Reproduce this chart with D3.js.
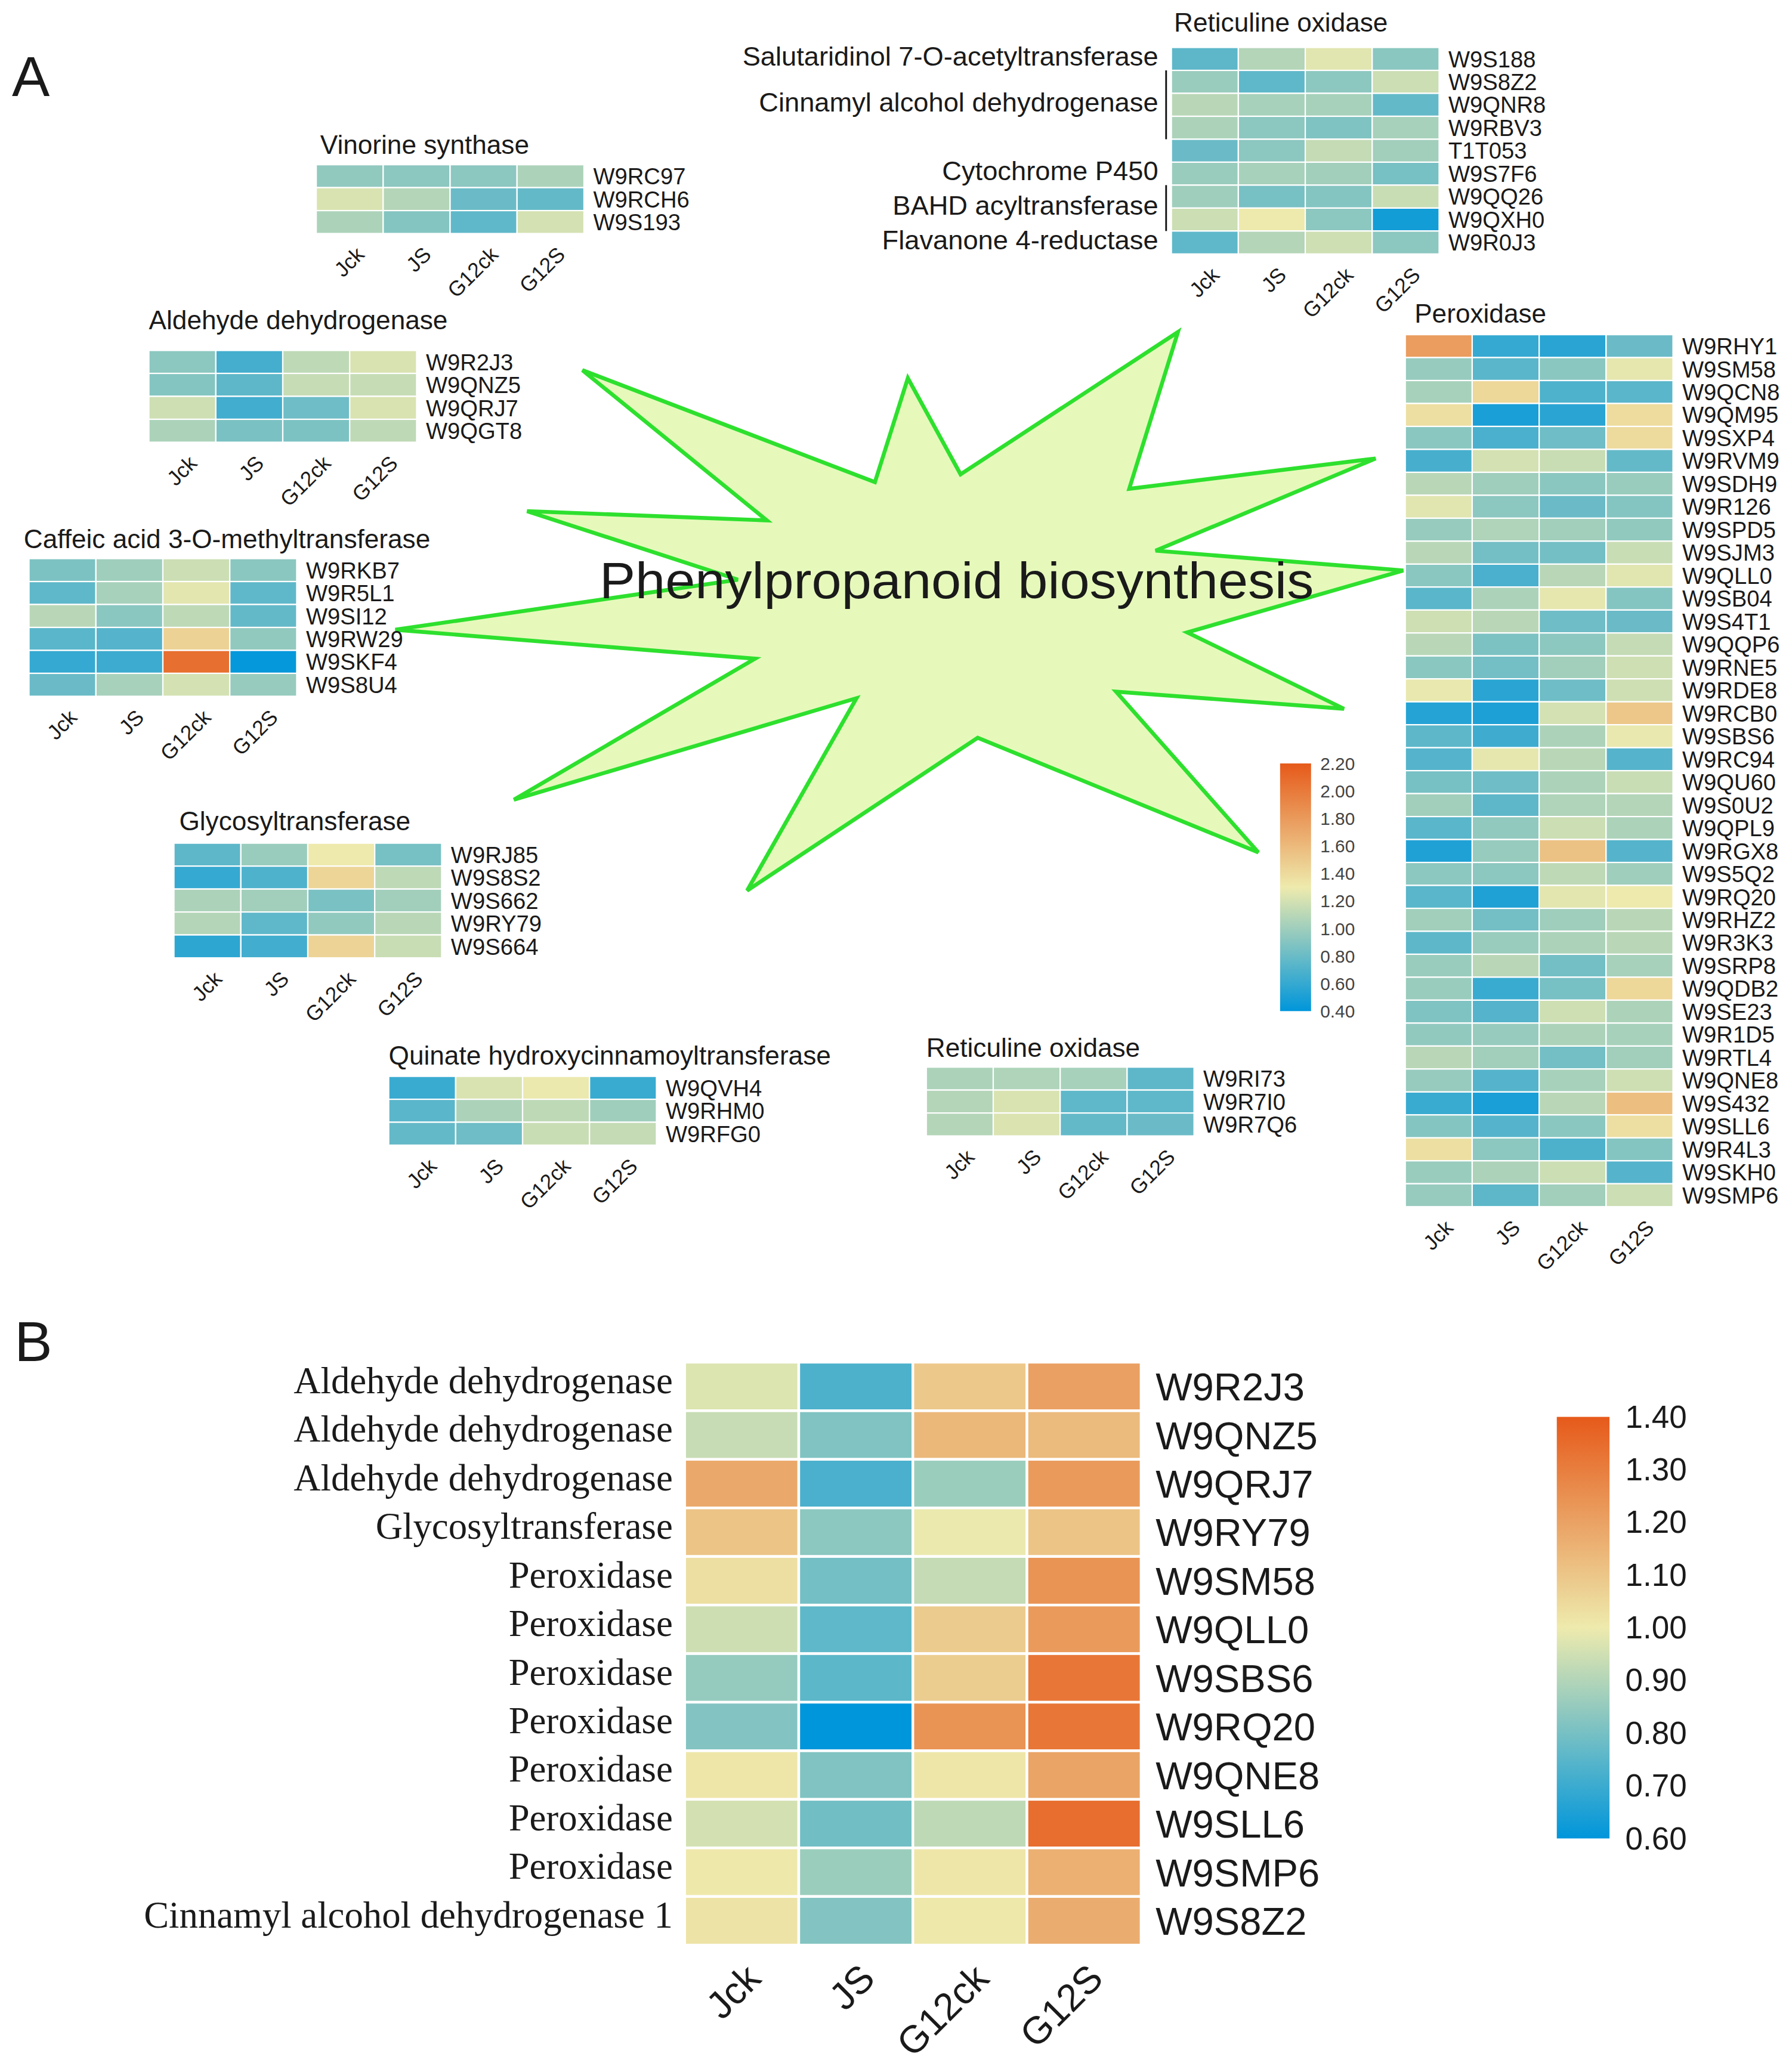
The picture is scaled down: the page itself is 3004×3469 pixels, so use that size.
<!DOCTYPE html>
<html>
<head>
<meta charset="utf-8">
<script src="https://cdn.jsdelivr.net/npm/d3@7"></script>
<style>
  body { margin: 0; background: #fff; }
  svg { display: block; }
</style>
</head>
<body>
<div id="chart-area"></div>
<script>
// sample columns shared by every heatmap
var samples = ["Jck", "JS", "G12ck", "G12S"];

// ---------------- panel A data ----------------
var vinorineGenes = ["W9RC97", "W9RCH6", "W9S193"];
var vinorineValues = [
  [0.95, 0.93, 0.93, 1.05],
  [1.22, 1.08, 0.80, 0.78],
  [1.05, 0.90, 0.76, 1.20]
];

var aldehydeGenes = ["W9R2J3", "W9QNZ5", "W9QRJ7", "W9QGT8"];
var aldehydeValues = [
  [0.93, 0.66, 1.12, 1.22],
  [0.90, 0.75, 1.15, 1.15],
  [1.18, 0.65, 0.82, 1.22],
  [1.05, 0.86, 0.87, 1.12]
];

var caffeicGenes = ["W9RKB7", "W9R5L1", "W9SI12", "W9RW29", "W9SKF4", "W9S8U4"];
var caffeicValues = [
  [0.87, 1.00, 1.17, 0.92],
  [0.76, 1.03, 1.26, 0.76],
  [1.10, 0.92, 1.12, 0.78],
  [0.74, 0.72, 1.45, 0.95],
  [0.60, 0.63, 2.07, 0.42],
  [0.80, 1.03, 1.20, 0.97]
];

var glycoGenes = ["W9RJ85", "W9S8S2", "W9S662", "W9RY79", "W9S664"];
var glycoValues = [
  [0.75, 0.98, 1.30, 0.85],
  [0.60, 0.70, 1.43, 1.12],
  [1.05, 1.01, 0.86, 1.01],
  [1.08, 0.76, 0.95, 1.10],
  [0.57, 0.65, 1.44, 1.16]
];

var quinateGenes = ["W9QVH4", "W9RHM0", "W9RFG0"];
var quinateValues = [
  [0.62, 1.22, 1.29, 0.62],
  [0.74, 1.05, 1.12, 1.00],
  [0.78, 0.82, 1.16, 1.14]
];

var reticLowGenes = ["W9RI73", "W9R7I0", "W9R7Q6"];
var reticLowValues = [
  [1.05, 1.06, 1.03, 0.75],
  [1.08, 1.22, 0.76, 0.76],
  [1.08, 1.23, 0.78, 0.80]
];

var reticTopGenes = ["W9S188", "W9S8Z2", "W9QNR8", "W9RBV3", "T1T053", "W9S7F6", "W9QQ26", "W9QXH0", "W9R0J3"];
var reticTopValues = [
  [0.75, 1.08, 1.25, 0.92],
  [0.98, 0.76, 0.93, 1.17],
  [1.10, 1.03, 1.03, 0.78],
  [1.05, 0.93, 0.88, 1.03],
  [0.80, 0.93, 1.14, 1.01],
  [0.98, 1.03, 1.01, 0.85],
  [1.00, 0.85, 0.90, 1.16],
  [1.17, 1.30, 0.93, 0.47],
  [0.76, 1.08, 1.18, 0.93]
];
// enzyme names written left of the top block: first row, last row, bracket line
var reticTopGroups = [
  { name: "Salutaridinol 7-O-acetyltransferase", first: 0, last: 0, line: false },
  { name: "Cinnamyl alcohol dehydrogenase", first: 1, last: 3, line: true },
  { name: "Cytochrome P450", first: 5, last: 5, line: false },
  { name: "BAHD acyltransferase", first: 6, last: 7, line: true },
  { name: "Flavanone 4-reductase", first: 8, last: 8, line: false }
];

var peroxGenes = ["W9RHY1", "W9SM58", "W9QCN8", "W9QM95", "W9SXP4", "W9RVM9", "W9SDH9", "W9R126",
  "W9SPD5", "W9SJM3", "W9QLL0", "W9SB04", "W9S4T1", "W9QQP6", "W9RNE5", "W9RDE8", "W9RCB0",
  "W9SBS6", "W9RC94", "W9QU60", "W9S0U2", "W9QPL9", "W9RGX8", "W9S5Q2", "W9RQ20", "W9RHZ2",
  "W9R3K3", "W9SRP8", "W9QDB2", "W9SE23", "W9R1D5", "W9RTL4", "W9QNE8", "W9S432", "W9SLL6",
  "W9R4L3", "W9SKH0", "W9SMP6"];
var peroxValues = [
  [1.78, 0.60, 0.56, 0.80],
  [0.97, 0.74, 0.92, 1.27],
  [1.03, 1.42, 0.70, 0.74],
  [1.37, 0.50, 0.56, 1.39],
  [0.92, 0.68, 0.82, 1.40],
  [0.67, 1.20, 1.16, 0.78],
  [1.10, 1.00, 0.92, 0.98],
  [1.25, 0.93, 0.80, 0.90],
  [0.97, 1.06, 1.01, 0.95],
  [1.10, 0.84, 0.84, 1.16],
  [0.92, 0.68, 1.10, 1.25],
  [0.74, 1.05, 1.27, 0.90],
  [1.18, 1.10, 0.82, 0.80],
  [1.10, 0.87, 0.93, 1.14],
  [0.92, 0.84, 1.01, 1.18],
  [1.28, 0.56, 0.82, 1.18],
  [0.54, 0.51, 1.20, 1.52],
  [0.75, 0.64, 1.05, 1.28],
  [0.72, 1.27, 1.10, 0.72],
  [0.85, 0.82, 1.05, 1.16],
  [1.01, 0.75, 1.06, 1.08],
  [0.74, 0.95, 1.17, 1.05],
  [0.52, 0.97, 1.55, 0.72],
  [0.93, 0.93, 1.12, 1.00],
  [0.74, 0.52, 1.26, 1.30],
  [1.01, 0.84, 1.00, 1.10],
  [0.75, 0.98, 1.05, 1.10],
  [0.98, 1.10, 0.84, 1.03],
  [0.98, 0.62, 0.85, 1.42],
  [0.88, 0.72, 1.18, 1.05],
  [0.95, 0.97, 1.05, 1.03],
  [1.10, 1.01, 0.84, 1.01],
  [0.97, 0.72, 1.03, 1.18],
  [0.62, 0.50, 1.10, 1.57],
  [0.90, 0.72, 0.92, 1.37],
  [1.37, 0.93, 0.69, 0.90],
  [0.98, 1.05, 1.17, 0.72],
  [0.97, 0.75, 1.01, 1.17]
];

var legendTicksA = [2.2, 2.0, 1.8, 1.6, 1.4, 1.2, 1.0, 0.8, 0.6, 0.4];

// ---------------- panel B data ----------------
var genesB = ["W9R2J3", "W9QNZ5", "W9QRJ7", "W9RY79", "W9SM58", "W9QLL0", "W9SBS6", "W9RQ20",
  "W9QNE8", "W9SLL6", "W9SMP6", "W9S8Z2"];
var enzymesB = ["Aldehyde dehydrogenase", "Aldehyde dehydrogenase", "Aldehyde dehydrogenase",
  "Glycosyltransferase", "Peroxidase", "Peroxidase", "Peroxidase", "Peroxidase", "Peroxidase",
  "Peroxidase", "Peroxidase", "Cinnamyl alcohol dehydrogenase 1"];
var valuesB = [
  [0.97, 0.73, 1.095, 1.205],
  [0.935, 0.815, 1.14, 1.13],
  [1.18, 0.725, 0.86, 1.22],
  [1.105, 0.835, 0.995, 1.105],
  [1.03, 0.795, 0.93, 1.24],
  [0.945, 0.76, 1.085, 1.22],
  [0.85, 0.755, 1.08, 1.32],
  [0.82, 0.60, 1.24, 1.32],
  [1.01, 0.815, 1.01, 1.195],
  [0.955, 0.79, 0.92, 1.345],
  [1.005, 0.86, 1.01, 1.16],
  [1.02, 0.82, 1.005, 1.17]
];
var legendTicksB = [1.4, 1.3, 1.2, 1.1, 1.0, 0.9, 0.8, 0.7, 0.6];

// ---------------- drawing ----------------
var W = 1360, H = 1570.5;
var sans = "'Liberation Sans', Arial, sans-serif";
var serif = "'Liberation Serif', 'Times New Roman', serif";
var ink = "#1a1a1a";

var palette = ["#0096db", "#eeeaad", "#e65a1a"];
var colorA = d3.scaleLinear().domain([0.4, 1.3, 2.2]).range(palette);
var colorB = d3.scaleLinear().domain([0.6, 1.0, 1.4]).range(palette);

var svg = d3.select("#chart-area")
  .append("svg")
    .attr("width", 3004)
    .attr("height", 3469)
    .attr("viewBox", "0 0 " + W + " " + H)
    .style("font-family", sans);

svg.append("rect").attr("width", W).attr("height", H).attr("fill", "#fff");

// panel letters
svg.append("text").attr("x", 9).attr("y", 73).attr("font-size", 43).attr("fill", ink).text("A");
svg.append("text").attr("x", 11).attr("y", 1033).attr("font-size", 43).attr("fill", ink).text("B");

// the star in the middle of panel A
var starOutline = [[300, 478], [560, 440], [400, 388], [582, 395], [442, 281], [664, 366], [689, 287],
  [729, 360], [894, 252], [857, 371], [1044, 348], [877, 418], [1065, 433], [901, 480], [1020, 538],
  [847, 525], [955, 647], [742, 560], [567, 676], [650, 530], [390, 607], [573, 500]];
svg.append("path")
  .attr("d", d3.line().curve(d3.curveLinearClosed)(starOutline))
  .attr("fill", "#e6f9bb")
  .attr("stroke", "#2ee02e")
  .attr("stroke-width", 3)
  .attr("stroke-linejoin", "miter");

svg.append("text")
  .attr("x", 455).attr("y", 454)
  .attr("font-size", 39)
  .attr("textLength", 542).attr("lengthAdjust", "spacingAndGlyphs")
  .attr("fill", ink)
  .text("Phenylpropanoid biosynthesis");

function heatmap(b) {
  var g = svg.append("g").attr("transform", "translate(" + b.x + "," + b.y + ")");
  var x = d3.scaleBand().domain(samples).range([0, samples.length * b.cellW]);
  var y = d3.scaleBand().domain(b.genes).range([0, b.genes.length * b.cellH]);

  var cells = [];
  b.genes.forEach(function(gene, i) {
    samples.forEach(function(s, j) {
      cells.push({ gene: gene, sample: s, value: b.values[i][j] });
    });
  });

  g.selectAll("rect.cell")
    .data(cells)
    .enter()
    .append("rect")
      .attr("class", "cell")
      .attr("x", function(d) { return x(d.sample); })
      .attr("y", function(d) { return y(d.gene); })
      .attr("width", x.bandwidth())
      .attr("height", y.bandwidth())
      .attr("fill", function(d) { return b.color(d.value); })
      .attr("stroke", "#fff")
      .attr("stroke-width", b.stroke);

  // gene ids on the right
  g.selectAll("text.gene")
    .data(b.genes)
    .enter()
    .append("text")
      .attr("class", "gene")
      .attr("x", x.range()[1] + b.labelGap)
      .attr("y", function(d) { return y(d) + y.bandwidth() / 2; })
      .attr("dy", "0.36em")
      .attr("font-size", b.labelSize)
      .attr("fill", ink)
      .text(function(d) { return d; });

  // sample names, slanted
  var bottom = y.range()[1];
  g.selectAll("text.sample")
    .data(samples)
    .enter()
    .append("text")
      .attr("class", "sample")
      .attr("text-anchor", "end")
      .attr("font-size", b.sampleSize)
      .attr("fill", ink)
      .attr("transform", function(d) {
        return "translate(" + (x(d) + x.bandwidth() / 2 + b.sampleDx) + "," + (bottom + b.sampleDy) + ") rotate(-45)";
      })
      .text(function(d) { return d; });

  if (b.title) {
    g.append("text")
      .attr("x", b.titleDx)
      .attr("y", -b.titleGap)
      .attr("font-size", 20)
      .attr("fill", ink)
      .text(b.title);
  }
  return { g: g, x: x, y: y };
}

var cellA = { cellW: 50.8, cellH: 17.42, stroke: 1, color: colorA, labelGap: 7, labelSize: 17.3,
  sampleSize: 16, sampleDx: 12, sampleDy: 17 };

function blockA(extra) { return Object.assign({}, cellA, extra); }

heatmap(blockA({ title: "Vinorine synthase", genes: vinorineGenes, values: vinorineValues,
  x: 240, y: 125, titleDx: 3, titleGap: 8 }));
heatmap(blockA({ title: "Aldehyde dehydrogenase", genes: aldehydeGenes, values: aldehydeValues,
  x: 113, y: 266, titleDx: 0, titleGap: 16 }));
heatmap(blockA({ title: "Caffeic acid 3-O-methyltransferase", genes: caffeicGenes, values: caffeicValues,
  x: 22, y: 424, titleDx: -4, titleGap: 8 }));
heatmap(blockA({ title: "Glycosyltransferase", genes: glycoGenes, values: glycoValues,
  x: 132, y: 640, titleDx: 4, titleGap: 10 }));
heatmap(blockA({ title: "Quinate hydroxycinnamoyltransferase", genes: quinateGenes, values: quinateValues,
  x: 295, y: 817, titleDx: 0, titleGap: 9 }));
heatmap(blockA({ title: "Reticuline oxidase", genes: reticLowGenes, values: reticLowValues,
  x: 703, y: 810, titleDx: 0, titleGap: 8 }));
heatmap(blockA({ title: "Peroxidase", genes: peroxGenes, values: peroxValues,
  x: 1066.5, y: 254, titleDx: 7, titleGap: 9 }));
var topBlock = heatmap(blockA({ title: "Reticuline oxidase", genes: reticTopGenes, values: reticTopValues,
  x: 889, y: 36, titleDx: 2, titleGap: 12 }));

// enzyme names and brackets left of the top block
reticTopGroups.forEach(function(grp) {
  var y0 = topBlock.y(reticTopGenes[grp.first]);
  var y1 = topBlock.y(reticTopGenes[grp.last]) + topBlock.y.bandwidth();
  topBlock.g.append("text")
    .attr("x", -10)
    .attr("y", (y0 + y1) / 2)
    .attr("dy", "0.25em")
    .attr("text-anchor", "end")
    .attr("font-size", 20.5)
    .attr("fill", ink)
    .text(grp.name);
  if (grp.line) {
    topBlock.g.append("line")
      .attr("x1", -4).attr("x2", -4)
      .attr("y1", y0).attr("y2", y1)
      .attr("stroke", "#111").attr("stroke-width", 1.3);
  }
});

// colour keys
function legend(opts) {
  var id = opts.id;
  var grad = svg.append("defs").append("linearGradient")
    .attr("id", id).attr("x1", 0).attr("y1", 1).attr("x2", 0).attr("y2", 0);
  var dom = opts.color.domain();
  d3.range(0, 1.0001, 0.05).forEach(function(t) {
    var v = dom[0] + t * (dom[2] - dom[0]);
    grad.append("stop").attr("offset", t).attr("stop-color", opts.color(v));
  });
  var ys = d3.scaleLinear().domain([dom[0], dom[2]]).range([opts.y1, opts.y0]);
  svg.append("rect")
    .attr("x", opts.x).attr("y", opts.y0)
    .attr("width", opts.w).attr("height", opts.y1 - opts.y0)
    .attr("fill", "url(#" + id + ")");
  var axis = d3.axisRight(ys)
    .tickValues(opts.ticks)
    .tickSize(0)
    .tickPadding(opts.pad)
    .tickFormat(d3.format(".2f"));
  var ax = svg.append("g")
    .attr("transform", "translate(" + (opts.x + opts.w) + ",0)")
    .call(axis);
  ax.select(".domain").remove();
  ax.selectAll("text")
    .attr("font-family", sans)
    .attr("font-size", opts.size)
    .attr("fill", opts.textColor);
}

legend({ id: "keyA", color: colorA, ticks: legendTicksA, x: 971.5, w: 23.5, y0: 579.5, y1: 767.5,
  pad: 7, size: 13.5, textColor: "#444" });

// ---------------- panel B ----------------
var hb = heatmap({ genes: genesB, values: valuesB, x: 519.6, y: 1034, cellW: 86.6, cellH: 36.87,
  stroke: 2, color: colorB, labelGap: 11, labelSize: 29.5, sampleSize: 29, sampleDx: 16, sampleDy: 27 });

hb.g.selectAll("text.enzyme")
  .data(genesB)
  .enter()
  .append("text")
    .attr("class", "enzyme")
    .attr("x", -9)
    .attr("y", function(d) { return hb.y(d) + hb.y.bandwidth() / 2; })
    .attr("dy", "0.18em")
    .attr("text-anchor", "end")
    .attr("font-family", serif)
    .attr("font-size", 28.4)
    .attr("fill", ink)
    .text(function(d, i) { return enzymesB[i]; });

legend({ id: "keyB", color: colorB, ticks: legendTicksB, x: 1181.5, w: 40, y0: 1075.5, y1: 1395.5,
  pad: 12, size: 24, textColor: ink });
</script>
</body>
</html>
